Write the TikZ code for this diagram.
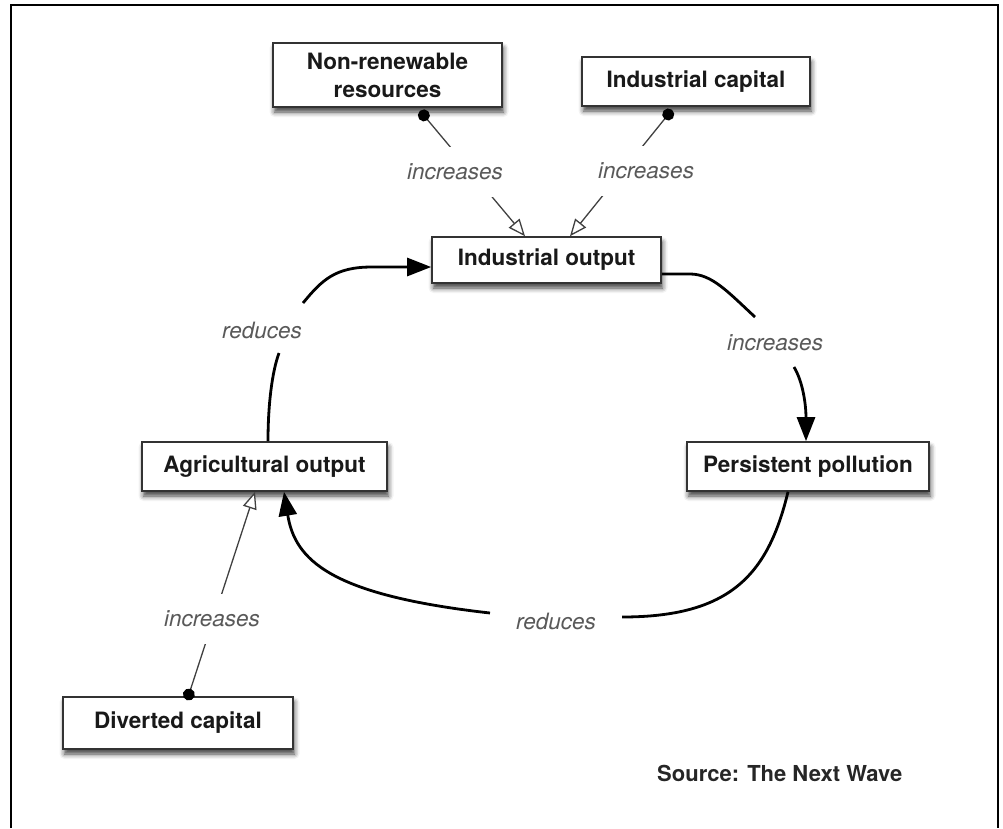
\documentclass[tikz,border=0pt]{standalone}
\usepackage{fontspec}
\setmainfont{TeX Gyre Heros}
\usetikzlibrary{arrows.meta,shadows.blur}
\begin{document}
\begin{tikzpicture}[x=1pt,y=-1pt,
  box/.style={draw=black!80, line width=1.6pt, fill=white, inner sep=0pt, align=center,
    font=\bfseries\fontsize{22.5}{28}\selectfont, text=black!90,
    blur shadow={shadow xshift=1.5pt, shadow yshift=-5pt, shadow blur radius=5pt, shadow opacity=75}},
  lbl/.style={font=\itshape\fontsize{22.5}{28}\selectfont, text=black!65, inner sep=0pt},
  gaplbl/.style={lbl, fill=white, minimum height=50pt, inner xsep=3pt},
  weak/.style={draw=black!75, line width=1.3pt,
    {Circle[length=12pt,width=12pt,fill=black,color=black]}-{Triangle[open,length=17pt,width=14pt,fill=white]}},
  strong/.style={draw=black, line width=2.8pt},
  head/.style={-{Triangle[length=24pt,width=18pt]}}
]
\useasboundingbox (0,0) rectangle (1003,828);

% outer frame, open at the bottom
\draw[line width=1.5pt] (11,828) -- (11,5) -- (998,5) -- (998,828);

% stocks
\node[box, minimum width=229pt, minimum height=64pt] (nr) at (387.5,75) {Non-renewable\\resources};
\node[box, minimum width=228pt, minimum height=49pt] (ic) at (696,81.5) {Industrial capital};
\node[box, minimum width=229pt, minimum height=46pt] (io) at (546.5,260) {Industrial output};
\node[box, minimum width=245pt, minimum height=49pt] (ag) at (264.5,466.5) {Agricultural output};
\node[box, minimum width=242pt, minimum height=49pt] (pp) at (808,466.5) {Persistent pollution};
\node[box, minimum width=230pt, minimum height=52pt] (dc) at (178,723) {Diverted capital};

% thin influence links
\draw[weak] ([xshift=32.5pt,yshift=-3pt]nr.south) -- ([xshift=-21.5pt]io.north);
\draw[weak] ([xshift=-24pt,yshift=-3pt]ic.south) -- ([xshift=23.5pt]io.north);
\draw[weak] ([xshift=9pt,yshift=-4pt]dc.north) -- ([xshift=-9.5pt]ag.south);

\node[gaplbl] (l1) at (455,171.5) {increases};
\node[gaplbl] (l2) at (646,170.5) {increases};
\node[gaplbl] (l6) at (212,619) {increases};

% main feedback loop
\coordinate (a1) at (279,353);
\coordinate (a2) at (303,303);
\draw[strong] ([xshift=3.5pt]ag.north) .. controls (268,405) and (272,372) .. (a1);
\draw[strong, head] (a2) .. controls (322,280) and (335,267) .. (372,267) -- ([yshift=-7pt]io.west);

\coordinate (b1) at (755,317);
\coordinate (b2) at (794,367);
\draw[strong] ([yshift=-14pt]io.east) -- (690,274) .. controls (712,274) and (728,292) .. (b1);
\draw[strong, head] (b2) .. controls (803,382) and (806,405) .. ([xshift=-2pt]pp.north);

\coordinate (c1) at (622,617);
\coordinate (c2) at (490,613);
\draw[strong] ([xshift=-20pt]pp.south) .. controls (768,575) and (730,617) .. (c1);
\draw[strong, head] (c2) .. controls (330,595) and (295,560) .. ([xshift=19.5pt]ag.south);

\node[lbl] (l3) at (262,330) {reduces};
\node[lbl] (l4) at (775,343) {increases};
\node[lbl] (l5) at (556,621) {reduces};

\node[font=\bfseries\fontsize{22}{26}\selectfont, text=black!85, anchor=west, inner sep=0pt]
  (src) at (657,773) {Source: The Next Wave};
\end{tikzpicture}
\end{document}
